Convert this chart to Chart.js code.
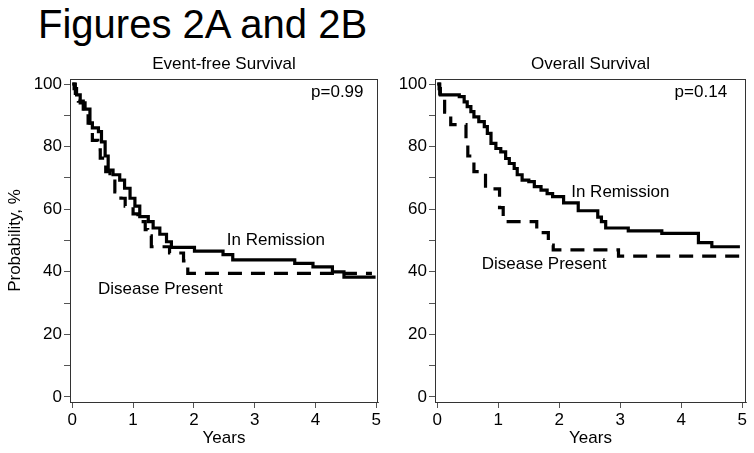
<!DOCTYPE html>
<html>
<head>
<meta charset="utf-8">
<script src="https://cdn.jsdelivr.net/npm/chart.js@4"></script>
<style>
  body { margin: 0; background: #fff; width: 754px; height: 453px; position: relative; overflow: hidden; }
  #title { position: absolute; left: 38px; top: 4px; font: 40px/40px "Liberation Sans", Arial, sans-serif; color: #000; white-space: nowrap; }
  canvas { position: absolute; top: 40px; }
  #efsChart { left: 0; }
  #osChart { left: 385px; }
</style>
</head>
<body>
<div id="title">Figures 2A and 2B</div>
<canvas id="efsChart" width="385" height="413"></canvas>
<canvas id="osChart" width="369" height="413"></canvas>
<script>
// Kaplan-Meier steps (years, %)
const efsRemissionT = [0, 0.03, 0.07, 0.13, 0.21, 0.29, 0.33, 0.43, 0.48, 0.54, 0.59, 0.67, 0.78, 0.86, 0.95, 1.03, 1.11, 1.25, 1.33, 1.44, 1.55, 1.63, 2.01, 2.48, 2.64, 3.66, 3.96, 4.28, 4.47, 4.99];
const efsRemissionS = [100, 98.5, 96.5, 94, 92, 87.5, 86, 84.8, 81.5, 77, 72.5, 71, 69.3, 66.7, 63.5, 61, 57.6, 56, 54, 52, 49.6, 47.8, 46.6, 45.5, 43.8, 42.7, 41.6, 40, 38.3, 38.3];
const efsDiseaseT = [0, 0.05, 0.1, 0.18, 0.26, 0.33, 0.42, 0.46, 0.55, 0.62, 0.7, 0.8, 0.87, 1.0, 1.08, 1.2, 1.24, 1.3, 1.6, 1.83, 1.9, 4.93];
const efsDiseaseS = [100, 97, 94.5, 92, 87.5, 82, 79, 76.3, 72, 69, 65.5, 63.5, 61, 58.5, 56, 53.5, 51.5, 48, 46, 43.5, 39.5, 39.5];

const osRemissionT = [0, 0.03, 0.05, 0.36, 0.44, 0.49, 0.55, 0.6, 0.68, 0.77, 0.82, 0.88, 0.96, 1.04, 1.12, 1.18, 1.26, 1.31, 1.39, 1.5, 1.59, 1.7, 1.8, 1.89, 2.07, 2.31, 2.63, 2.69, 2.76, 3.13, 3.68, 4.28, 4.5, 4.96];
const osRemissionS = [100, 98.5, 96.5, 96, 94.3, 92.8, 91.2, 89.5, 88, 86.4, 84.2, 81, 79.4, 78.3, 76.2, 74.6, 73, 71, 69.3, 68.8, 67.2, 66.1, 65, 64, 62, 59.5, 57.5, 56, 54, 53.1, 52.3, 49.3, 48, 48];
const osDiseaseT = [0, 0.04, 0.12, 0.22, 0.47, 0.5, 0.6, 0.79, 1.02, 1.08, 1.12, 1.63, 1.82, 1.9, 2.97, 4.96];
const osDiseaseS = [100, 96, 91, 87, 82, 77, 72, 66.5, 60.5, 57.5, 56, 52.5, 48.5, 47, 45, 45];

const xTicks = [0, 1, 2, 3, 4, 5];
const yTicks = [0, 10, 20, 30, 40, 50, 60, 70, 80, 90, 100];

const FONT = '"Liberation Sans", Arial, sans-serif';

function pts(t, s) {
  return t.map((v, i) => ({ x: v, y: s[i] }));
}

// subtitle, frame and in-plot labels
const panelText = {
  id: 'panelText',
  afterDraw(chart, args, opts) {
    const { ctx, chartArea, scales } = chart;
    ctx.save();
    ctx.strokeStyle = '#333';
    ctx.lineWidth = 1;
    ctx.strokeRect(chartArea.left + 0.5, chartArea.top + 0.5, chartArea.width - 1, chartArea.height);
    ctx.fillStyle = '#000';
    ctx.font = '17px ' + FONT;
    ctx.textAlign = 'center';
    ctx.textBaseline = 'middle';
    ctx.fillText(opts.heading, (chartArea.left + chartArea.right) / 2, chartArea.top - 15);
    opts.notes.forEach(n => {
      ctx.fillText(n.text, scales.x.getPixelForValue(n.x), scales.y.getPixelForValue(n.y));
    });
    ctx.restore();
  }
};

function makeChart(id, remission, disease, heading, notes, yWidth, yTitle, xMax, padRight) {
  return new Chart(document.getElementById(id), {
    type: 'line',
    data: {
      datasets: [{
        label: 'In Remission',
        data: remission,
        borderColor: '#000',
        borderWidth: 3.2,
        stepped: 'before',
        pointRadius: 0,
        fill: false
      }, {
        label: 'Disease Present',
        data: disease,
        borderColor: '#000',
        borderWidth: 3.2,
        borderDash: [14, 9],
        stepped: 'before',
        pointRadius: 0,
        fill: false
      }]
    },
    options: {
      responsive: false,
      animation: false,
      devicePixelRatio: 1,
      layout: { padding: { top: 39, right: padRight, left: 0, bottom: 0 } },
      plugins: {
        legend: { display: false },
        tooltip: { enabled: false },
        panelText: { heading: heading, notes: notes }
      },
      scales: {
        x: {
          type: 'linear',
          min: -0.038,
          max: xMax,
          afterBuildTicks: s => { s.ticks = xTicks.map(v => ({ value: v })); },
          afterFit: s => { s.height = 51; },
          grid: { drawOnChartArea: false, drawTicks: true, tickLength: 6, color: '#555' },
          border: { display: true, color: '#555' },
          ticks: { autoSkip: false, maxRotation: 0, padding: 2, color: '#000', font: { family: FONT, size: 17 } },
          title: { display: true, text: 'Years', color: '#000', padding: { top: 0, bottom: 4 }, font: { family: FONT, size: 17 } }
        },
        y: {
          type: 'linear',
          min: -1.6,
          max: 101.6,
          afterBuildTicks: s => { s.ticks = yTicks.map(v => ({ value: v })); },
          afterFit: s => { s.width = yWidth; },
          grid: { drawOnChartArea: false, drawTicks: true, tickLength: 6, color: '#555' },
          border: { display: true, color: '#555' },
          ticks: {
            autoSkip: false,
            padding: 2,
            color: '#000',
            font: { family: FONT, size: 17 },
            callback: v => (v % 20 === 0 ? v : '')
          },
          title: { display: !!yTitle, text: yTitle, color: '#000', padding: { top: 5, bottom: 0 }, font: { family: FONT, size: 17 } }
        }
      }
    },
    plugins: [panelText]
  });
}

makeChart('efsChart',
  pts(efsRemissionT, efsRemissionS),
  pts(efsDiseaseT, efsDiseaseS),
  'Event-free Survival',
  [
    { text: 'p=0.99', x: 4.36, y: 97.4 },
    { text: 'In Remission', x: 3.35, y: 50 },
    { text: 'Disease Present', x: 1.45, y: 34.5 }
  ],
  70, 'Probability, %', 5.03, 7);

makeChart('osChart',
  pts(osRemissionT, osRemissionS),
  pts(osDiseaseT, osDiseaseS),
  'Overall Survival',
  [
    { text: 'p=0.14', x: 4.32, y: 97.4 },
    { text: 'In Remission', x: 3.0, y: 65.5 },
    { text: 'Disease Present', x: 1.75, y: 42.5 }
  ],
  50, '', 5.06, 8);
</script>
</body>
</html>
